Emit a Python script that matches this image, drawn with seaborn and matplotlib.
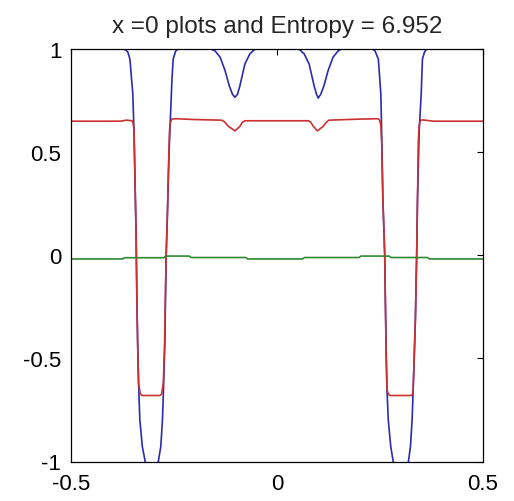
import matplotlib
matplotlib.use("Agg")
import matplotlib.pyplot as plt
import seaborn as sns
import pandas as pd

# ---- data ----
blue_x = [-0.5, -0.372, -0.367, -0.362, -0.357, -0.350, -0.347, -0.345, -0.342, -0.340, -0.338, -0.336,
          -0.333, -0.327, -0.320, -0.312, -0.304, -0.296, -0.288, -0.282, -0.278, -0.275, -0.272,
          -0.269, -0.266, -0.262, -0.258, -0.255, -0.252, -0.246, -0.240,
          -0.160, -0.150, -0.138, -0.126, -0.116, -0.108, -0.102, -0.096, -0.090, -0.078, -0.066, -0.055, -0.048,
          0.048, 0.055, 0.066, 0.078, 0.090, 0.096, 0.100, 0.106, 0.114, 0.124, 0.136, 0.148, 0.156,
          0.232, 0.238, 0.246, 0.252, 0.254, 0.257, 0.2615, 0.263, 0.265, 0.267, 0.270, 0.276, 0.282,
          0.292, 0.300, 0.310, 0.319, 0.324, 0.328, 0.330, 0.333, 0.336, 0.339, 0.341, 0.345, 0.350,
          0.353, 0.358, 0.363, 0.5]
blue_y = [1.0, 1.0, 0.995, 0.985, 0.951, 0.782, 0.597, 0.4, 0.1, -0.228, -0.45, -0.62,
          -0.796, -0.926, -1.0, -1.03, -1.04, -1.03, -1.0, -0.926, -0.796, -0.62, -0.4,
          0.0, 0.2, 0.5, 0.7, 0.85, 0.951, 0.99, 1.0,
          1.0, 0.99, 0.96, 0.895, 0.822, 0.78, 0.766, 0.78, 0.822, 0.927, 0.976, 0.997, 1.0,
          1.0, 0.997, 0.976, 0.927, 0.822, 0.78, 0.762, 0.78, 0.822, 0.895, 0.96, 0.99, 1.0,
          1.0, 0.99, 0.951, 0.782, 0.597, 0.27, 0.0, -0.214, -0.48, -0.65, -0.796, -0.926, -1.0,
          -1.03, -1.04, -1.03, -1.0, -0.926, -0.796, -0.68, -0.5, -0.3, 0.0, 0.27, 0.597, 0.782,
          0.951, 0.985, 1.0, 1.0]

red_x = [-0.5, -0.38, -0.365, -0.352, -0.349, -0.347, -0.345, -0.342, -0.340, -0.338, -0.336, -0.332,
         -0.328, -0.284, -0.280, -0.276, -0.273, -0.271, -0.269, -0.266, -0.263, -0.261, -0.259, -0.255,
         -0.245, -0.20, -0.135, -0.128, -0.118, -0.102, -0.090, -0.084, -0.078, 0.0,
         0.076, 0.082, 0.088, 0.098, 0.112, 0.120, 0.126, 0.2, 0.245, 0.249, 0.252, 0.254, 0.257,
         0.2615, 0.263, 0.265, 0.267, 0.270, 0.274, 0.326, 0.330, 0.333, 0.336, 0.339, 0.341, 0.343,
         0.345, 0.348, 0.355, 0.38, 0.5]
red_y = [0.650, 0.650, 0.655, 0.652, 0.64, 0.60, 0.4, 0.1, -0.228, -0.45, -0.62, -0.672,
         -0.680, -0.680, -0.672, -0.62, -0.45, -0.2, 0.0, 0.2, 0.45, 0.6, 0.645, 0.66,
         0.662, 0.658, 0.655, 0.648, 0.625, 0.603, 0.625, 0.645, 0.652, 0.652,
         0.652, 0.645, 0.625, 0.603, 0.625, 0.645, 0.655, 0.660, 0.662, 0.655, 0.63, 0.55, 0.27,
         0.0, -0.214, -0.48, -0.65, -0.672, -0.680, -0.680, -0.672, -0.5, -0.3, 0.0, 0.27, 0.55,
         0.63, 0.655, 0.656, 0.650, 0.650]

green_x = [-0.5, -0.375, -0.370, -0.275, -0.270, -0.213, -0.208, -0.076, -0.071, 0.062, 0.067,
           0.199, 0.204, 0.272, 0.277, 0.365, 0.370, 0.5]
green_y = [-0.018, -0.018, -0.012, -0.012, -0.004, -0.004, -0.011, -0.011, -0.018, -0.018, -0.011,
           -0.011, -0.004, -0.004, -0.011, -0.011, -0.018, -0.018]

x_ticks = [-0.5, 0, 0.5]
x_tick_labels = ["-0.5", "0", "0.5"]
y_ticks = [-1, -0.5, 0, 0.5, 1]
y_tick_labels = ["-1", "-0.5", "0", "0.5", "1"]
title = "x =0 plots and Entropy = 6.952"

# ---- plot ----
sns.set_style("white")
plt.rcParams['font.family'] = ['Liberation Sans', 'DejaVu Sans']
plt.rcParams['axes.unicode_minus'] = False

fig = plt.figure(figsize=(5.14, 5.02), dpi=100)
ax = fig.add_axes([71 / 514, (502 - 462.5) / 502, 412 / 514, 412.5 / 502])

blue_df = pd.DataFrame({"x": blue_x, "y": blue_y})
red_df = pd.DataFrame({"x": red_x, "y": red_y})
green_df = pd.DataFrame({"x": green_x, "y": green_y})

sns.lineplot(data=blue_df, x="x", y="y", ax=ax, color="#2b2bb0", lw=1.2, estimator=None, sort=False)
sns.lineplot(data=red_df, x="x", y="y", ax=ax, color="#cc3030", lw=1.2, estimator=None, sort=False)
sns.lineplot(data=green_df, x="x", y="y", ax=ax, color="#2f8a2f", lw=1.2, estimator=None, sort=False)

ax.set_xlim(-0.5, 0.5)
ax.set_ylim(-1, 1)
ax.set_xticks(x_ticks)
ax.set_xticklabels(x_tick_labels)
ax.set_yticks(y_ticks)
ax.set_yticklabels(y_tick_labels)
ax.set_xlabel("")
ax.set_ylabel("")
ax.tick_params(direction="in", length=4, width=0.8, top=True, right=True,
               labelsize=16, colors="black")
ax.tick_params(axis="x", pad=8)
ax.tick_params(axis="y", pad=7)
for s in ax.spines.values():
    s.set_visible(True)
    s.set_color("black")
    s.set_linewidth(0.9)
ax.set_title(title, fontsize=17.5, pad=12)

fig.savefig("out.png", dpi=100)
